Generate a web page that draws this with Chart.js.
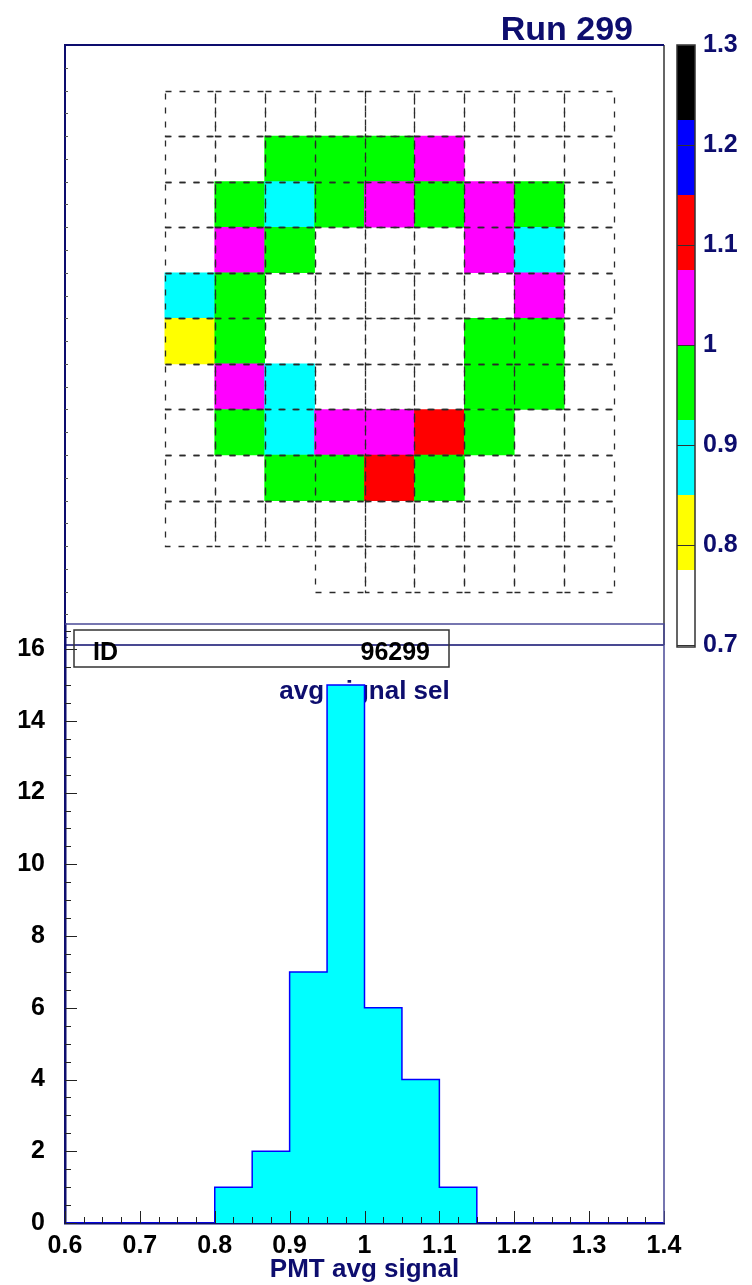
<!DOCTYPE html>
<html>
<head>
<meta charset="utf-8">
<title>Run 299</title>
<script src="https://cdn.jsdelivr.net/npm/chart.js@4.4.0/dist/chart.umd.min.js"></script>
<style>
  html, body { margin: 0; padding: 0; background: #fff; }
  body { width: 752px; height: 1285px; position: relative; overflow: hidden; }
  canvas { position: absolute; left: 0; }
  #map { top: 0; }
  #hist { top: 600px; }
</style>
</head>
<body>
<canvas id="map" width="752" height="670"></canvas>
<canvas id="hist" width="752" height="685"></canvas>
<script>
const runTitle = 'Run 299'
const histTitle = 'avg signal sel'
const xTitle = 'PMT avg signal'
const statsLabel = 'ID'
const statsValue = '96299'

// average signal per PMT, rows top to bottom (null = nothing drawn)
const pmtValues = [
  [null, null, null, null, null, null, null, null, null],
  [null, null, 0.97, 0.98, 0.935, 1.03, null, null, null],
  [null, 0.95, 0.91, 0.99, 1.06, 0.97, 1.02, 0.98, null],
  [null, 1.01, 0.96, null, null, null, 1.04, 0.92, null],
  [0.89, 0.94, null, null, null, null, null, 1.06, null],
  [0.83, 0.97, null, null, null, null, 0.99, 0.96, null],
  [null, 1.02, 0.87, null, null, null, 0.98, 0.93, null],
  [null, 0.945, 0.915, 1.03, 1.065, 1.09, 0.97, null, null],
  [null, null, 0.96, 0.99, 1.12, 0.98, null, null, null],
  [null, null, null, null, null, null, null, null, null],
]
// PMT outline layout: first and last column present in each row
const rowFirstCol = [0, 0, 0, 0, 0, 0, 0, 0, 0, 0, 3]
const rowLastCol = [8, 8, 8, 8, 8, 8, 8, 8, 8, 8, 8]

// colour palette of the z axis
const zLevels = [0.7, 0.775, 0.85, 0.925, 1.0, 1.075, 1.15, 1.225, 1.3]
const zColors = ['#ffffff', '#ffff00', '#00ffff', '#00ff00', '#ff00ff', '#ff0000', '#0000ff', '#000000']

// histogram of the same signals
const binEdges = [0.80, 0.85, 0.90, 0.95, 1.00, 1.05, 1.10, 1.15]
const binCounts = [1, 2, 7, 15, 6, 4, 1]
const histRange = [0.6, 1.4]

const NAVY = '#0d0d6e'
const FONT = 'Liberation Sans, Arial, Helvetica, sans-serif'
Chart.defaults.font.family = FONT
Chart.defaults.font.weight = 'bold'
Chart.defaults.animation = false

const fmt = v => String(+v.toFixed(2))

// keep label overflow from shrinking the plot area
const noLabelPadding = s => {
  s.paddingTop = 0
  s.paddingBottom = 0
  s.paddingLeft = 0
  s.paddingRight = 0
}

function colorFor(v) {
  for (let i = 0; i < zColors.length; i++) {
    if (v < zLevels[i + 1]) return zColors[i]
  }
  return zColors[zColors.length - 1]
}

const cells = []
pmtValues.forEach((row, r) => row.forEach((v, c) => {
  if (v !== null) cells.push({ x: c + 0.5, y: [r, r + 1], v })
}))

const mapDecor = {
  id: 'mapDecor',
  afterDatasetsDraw(chart) {
    const { ctx, chartArea: a, scales: { x, y, z } } = chart
    ctx.save()

    // dashed PMT outlines
    ctx.strokeStyle = '#2a2a2a'
    ctx.lineWidth = 1.3
    ctx.setLineDash([6, 8])
    rowFirstCol.forEach((c0, r) => {
      for (let c = c0; c <= rowLastCol[r]; c++) {
        const x0 = Math.round(x.getPixelForValue(c)) + 0.5
        const x1 = Math.round(x.getPixelForValue(c + 1)) + 0.5
        const y0 = Math.round(y.getPixelForValue(r)) + 0.5
        const y1 = Math.round(y.getPixelForValue(r + 1)) + 0.5
        ctx.strokeRect(x0, y0, x1 - x0, y1 - y0)
      }
    })
    ctx.setLineDash([])

    // frame
    ctx.strokeStyle = '#333'
    ctx.lineWidth = 1.5
    ctx.beginPath()
    ctx.moveTo(a.right, a.top)
    ctx.lineTo(a.right, a.bottom)
    ctx.stroke()
    ctx.strokeStyle = NAVY
    ctx.lineWidth = 2
    ctx.beginPath()
    ctx.moveTo(a.left, a.bottom)
    ctx.lineTo(a.left, a.top)
    ctx.lineTo(a.right, a.top)
    ctx.stroke()
    ctx.lineWidth = 1.5
    ctx.beginPath()
    ctx.moveTo(a.left, a.bottom)
    ctx.lineTo(a.right, a.bottom)
    ctx.stroke()

    // small ticks on the left edge
    ctx.strokeStyle = '#555'
    ctx.lineWidth = 1
    for (let v = -0.5; v <= 12; v += 0.5) {
      const py = Math.round(y.getPixelForValue(v)) + 0.5
      ctx.beginPath()
      ctx.moveTo(a.left, py)
      ctx.lineTo(a.left + 3, py)
      ctx.stroke()
    }

    // palette box
    const bx = a.right + 13, bw = 18
    zColors.forEach((col, i) => {
      const top = z.getPixelForValue(zLevels[i + 1])
      const bot = z.getPixelForValue(zLevels[i])
      ctx.fillStyle = col
      ctx.fillRect(bx, top, bw, bot - top)
    })
    ctx.strokeStyle = '#333'
    ctx.lineWidth = 1
    z.ticks.forEach(t => {
      const py = Math.round(z.getPixelForValue(t.value)) + 0.5
      ctx.beginPath()
      ctx.moveTo(bx, py)
      ctx.lineTo(bx + bw, py)
      ctx.stroke()
    })
    ctx.lineWidth = 1.5
    ctx.strokeRect(bx, z.top, bw, z.bottom - z.top + 2)

    // run title
    ctx.fillStyle = NAVY
    ctx.font = `bold 34px ${FONT}`
    ctx.textAlign = 'right'
    ctx.textBaseline = 'alphabetic'
    ctx.fillText(runTitle, 633, 40)
    ctx.restore()
  }
}

new Chart(document.getElementById('map'), {
  type: 'bar',
  data: {
    datasets: [{
      data: cells,
      backgroundColor: c => colorFor(c.raw.v),
      borderWidth: 0,
      barPercentage: 1,
      categoryPercentage: 1,
    }]
  },
  options: {
    responsive: false,
    layout: { padding: { left: 65, top: 45, right: 0, bottom: 25 } },
    plugins: { legend: { display: false }, tooltip: { enabled: false } },
    scales: {
      x: { type: 'linear', min: -2, max: 10, offset: false, display: false, ticks: { stepSize: 1 } },
      y: { type: 'linear', min: -1, max: 12.17, reverse: true, display: false },
      z: {
        type: 'linear', position: 'right', min: 0.7, max: 1.3,
        afterFit: s => { noLabelPadding(s); s.width = 88 },
        grid: { display: false, drawTicks: false },
        border: { display: false },
        ticks: { stepSize: 0.1, padding: 39, color: NAVY, font: { size: 25, weight: 'bold' }, callback: fmt },
      },
    },
  },
  plugins: [mapDecor],
})

// step outline through the bin edges
const histPoints = [{ x: histRange[0], y: 0 }]
binCounts.forEach((n, i) => histPoints.push({ x: binEdges[i], y: n }))
histPoints.push({ x: binEdges[binEdges.length - 1], y: 0 }, { x: histRange[1], y: 0 })

const histDecor = {
  id: 'histDecor',
  beforeDatasetsDraw(chart) {
    const { ctx, chartArea: a } = chart
    ctx.save()
    ctx.fillStyle = NAVY
    ctx.font = `bold 26px ${FONT}`
    ctx.textAlign = 'center'
    ctx.textBaseline = 'middle'
    ctx.fillText(histTitle, (a.left + a.right) / 2, a.top + 68)
    ctx.restore()
  },
  afterDraw(chart) {
    const { ctx, chartArea: a, scales: { x, y } } = chart
    ctx.save()
    ctx.strokeStyle = '#222'
    ctx.lineWidth = 1
    // inward ticks
    for (let v = 0; v <= 16.5; v += 0.5) {
      const py = Math.round(y.getPixelForValue(v)) + 0.5
      ctx.beginPath()
      ctx.moveTo(a.left, py)
      ctx.lineTo(a.left + (v % 2 === 0 ? 12 : 6), py)
      ctx.stroke()
    }
    for (let k = 0; k <= 32; k++) {
      const v = histRange[0] + k * 0.025
      const px = Math.round(x.getPixelForValue(v)) + 0.5
      ctx.beginPath()
      ctx.moveTo(px, a.bottom)
      ctx.lineTo(px, a.bottom - (k % 4 === 0 ? 12 : 6))
      ctx.stroke()
    }
    // frame top and right
    ctx.strokeStyle = '#4a4a96'
    ctx.lineWidth = 1.5
    ctx.beginPath()
    ctx.moveTo(a.left, a.top)
    ctx.lineTo(a.right, a.top)
    ctx.lineTo(a.right, a.bottom)
    ctx.stroke()
    // ID box
    ctx.strokeStyle = '#333'
    ctx.lineWidth = 1.5
    ctx.strokeRect(a.left + 9, a.top + 6, 375, 37)
    ctx.fillStyle = '#000'
    ctx.font = `bold 25px ${FONT}`
    ctx.textBaseline = 'alphabetic'
    ctx.textAlign = 'left'
    ctx.fillText(statsLabel, a.left + 28, a.top + 36)
    ctx.textAlign = 'right'
    ctx.fillText(statsValue, a.left + 365, a.top + 36)
    ctx.restore()
  }
}

new Chart(document.getElementById('hist'), {
  type: 'line',
  data: {
    datasets: [{
      data: histPoints,
      stepped: 'before',
      fill: 'origin',
      backgroundColor: '#00ffff',
      borderColor: '#0000ff',
      borderWidth: 1.5,
      pointRadius: 0,
    }]
  },
  options: {
    responsive: false,
    layout: { padding: { top: 24, right: 88 } },
    plugins: { legend: { display: false }, tooltip: { enabled: false } },
    scales: {
      x: {
        type: 'linear', min: histRange[0], max: histRange[1], z: 1,
        afterFit: s => { noLabelPadding(s); s.height = 62 },
        grid: { display: false, drawTicks: false },
        border: { color: NAVY, width: 2.5 },
        ticks: { stepSize: 0.1, padding: 8, color: '#000', font: { size: 25 }, callback: fmt, maxRotation: 0 },
        title: { display: true, text: xTitle, color: NAVY, font: { size: 26, weight: 'bold' }, padding: { top: 0, bottom: 0 } },
      },
      y: {
        type: 'linear', min: 0, max: 16.7, z: 1,
        afterFit: s => { noLabelPadding(s); s.width = 65 },
        grid: { display: false, drawTicks: false },
        border: { color: NAVY, width: 2.5 },
        ticks: { stepSize: 2, includeBounds: false, padding: 20, color: '#000', font: { size: 25 },
          callback: v => (v % 2 === 0 ? v : '') },
      },
    },
  },
  plugins: [histDecor],
})
</script>
</body>
</html>
